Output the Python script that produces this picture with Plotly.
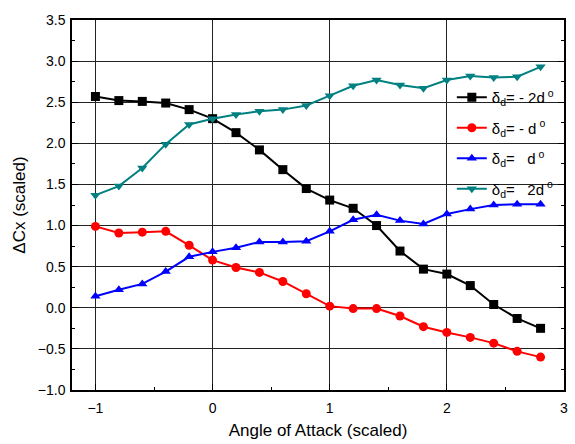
import plotly.graph_objects as go

x = [-1.0, -0.8, -0.6, -0.4, -0.2, 0.0, 0.2, 0.4, 0.6, 0.8,
     1.0, 1.2, 1.4, 1.6, 1.8, 2.0, 2.2, 2.4, 2.6, 2.8]

neg2d = [2.57, 2.52, 2.51, 2.49, 2.41, 2.30, 2.13, 1.92, 1.68, 1.45,
         1.31, 1.21, 1.00, 0.69, 0.47, 0.41, 0.27, 0.04, -0.13, -0.25]
negd = [0.99, 0.91, 0.92, 0.93, 0.76, 0.58, 0.49, 0.43, 0.32, 0.17,
        0.02, -0.01, -0.01, -0.10, -0.23, -0.30, -0.36, -0.43, -0.53, -0.60]
posd = [0.14, 0.22, 0.29, 0.44, 0.62, 0.68, 0.73, 0.80, 0.80, 0.81,
        0.93, 1.07, 1.13, 1.06, 1.02, 1.14, 1.20, 1.25, 1.26, 1.26]
pos2d = [1.37, 1.48, 1.70, 1.99, 2.23, 2.30, 2.35, 2.39, 2.41, 2.46,
         2.58, 2.70, 2.77, 2.71, 2.67, 2.77, 2.82, 2.80, 2.81, 2.93]

names = ["δ<sub>d</sub>= - 2d<sup> o</sup>", "δ<sub>d</sub>= - d<sup> o</sup>",
         "δ<sub>d</sub>=&nbsp;&nbsp; d<sup> o</sup>", "δ<sub>d</sub>=&nbsp;&nbsp; 2d<sup> o</sup>"]
series = [neg2d, negd, posd, pos2d]
colors = ["#000000", "#ff0000", "#0000ff", "#008080"]
symbols = ["square", "circle", "triangle-up", "triangle-down"]

fig = go.Figure()
for i, (n, s, c, m) in enumerate(zip(names, series, colors, symbols)):
    fig.add_trace(go.Scatter(x=x, y=s, name=n, mode="lines+markers",
                             legendgroup=f"g{i}",
                             line=dict(color=c, width=2),
                             marker=dict(symbol=m, size=9, color=c)))

# white patch behind the legend, hiding grid lines but not the data
fig.add_shape(type="rect", xref="paper", yref="paper",
              x0=0.77, x1=0.997, y0=0.527, y1=0.80,
              fillcolor="white", line=dict(width=0), layer="between")

font = "Liberation Sans, Arial, sans-serif"
fig.update_layout(
    width=575, height=444,
    margin=dict(l=72, r=7, t=20, b=52),
    paper_bgcolor="white", plot_bgcolor="white",
    font=dict(family=font, size=14, color="#000"),
    showlegend=True,
    legend=dict(x=0.772, y=0.835, xanchor="left", yanchor="top",
                bgcolor="rgba(0,0,0,0)", borderwidth=0,
                font=dict(size=15, family=font),
                itemwidth=30, tracegroupgap=8),
)
fig.update_xaxes(range=[-1.2, 3.0], dtick=1, tick0=0,
                 showgrid=True, gridcolor="#222", gridwidth=1,
                 zeroline=False, showline=True, linecolor="#000", linewidth=1.5,
                 mirror=True, ticks="inside", ticklen=6, tickcolor="#000",
                 minor=dict(dtick=0.5, ticks="inside", ticklen=3, tickcolor="#000", showgrid=False),
                 title=dict(text="Angle of Attack (scaled)", font=dict(size=17), standoff=10),
                 tickfont=dict(size=14), ticklabelstandoff=4)
fig.update_yaxes(range=[-1.0, 3.5], dtick=0.5, tick0=0, tickformat=".1f",
                 showgrid=True, gridcolor="#222", gridwidth=1,
                 zeroline=False, showline=True, linecolor="#000", linewidth=1.5,
                 mirror="ticks", ticks="inside", ticklen=6, tickcolor="#000",
                 minor=dict(dtick=0.25, ticks="inside", ticklen=3, tickcolor="#000", showgrid=False),
                 title=dict(text="ΔCx (scaled)", font=dict(size=17), standoff=8),
                 tickfont=dict(size=14), ticklabelstandoff=2)

fig.write_html("out.html")
